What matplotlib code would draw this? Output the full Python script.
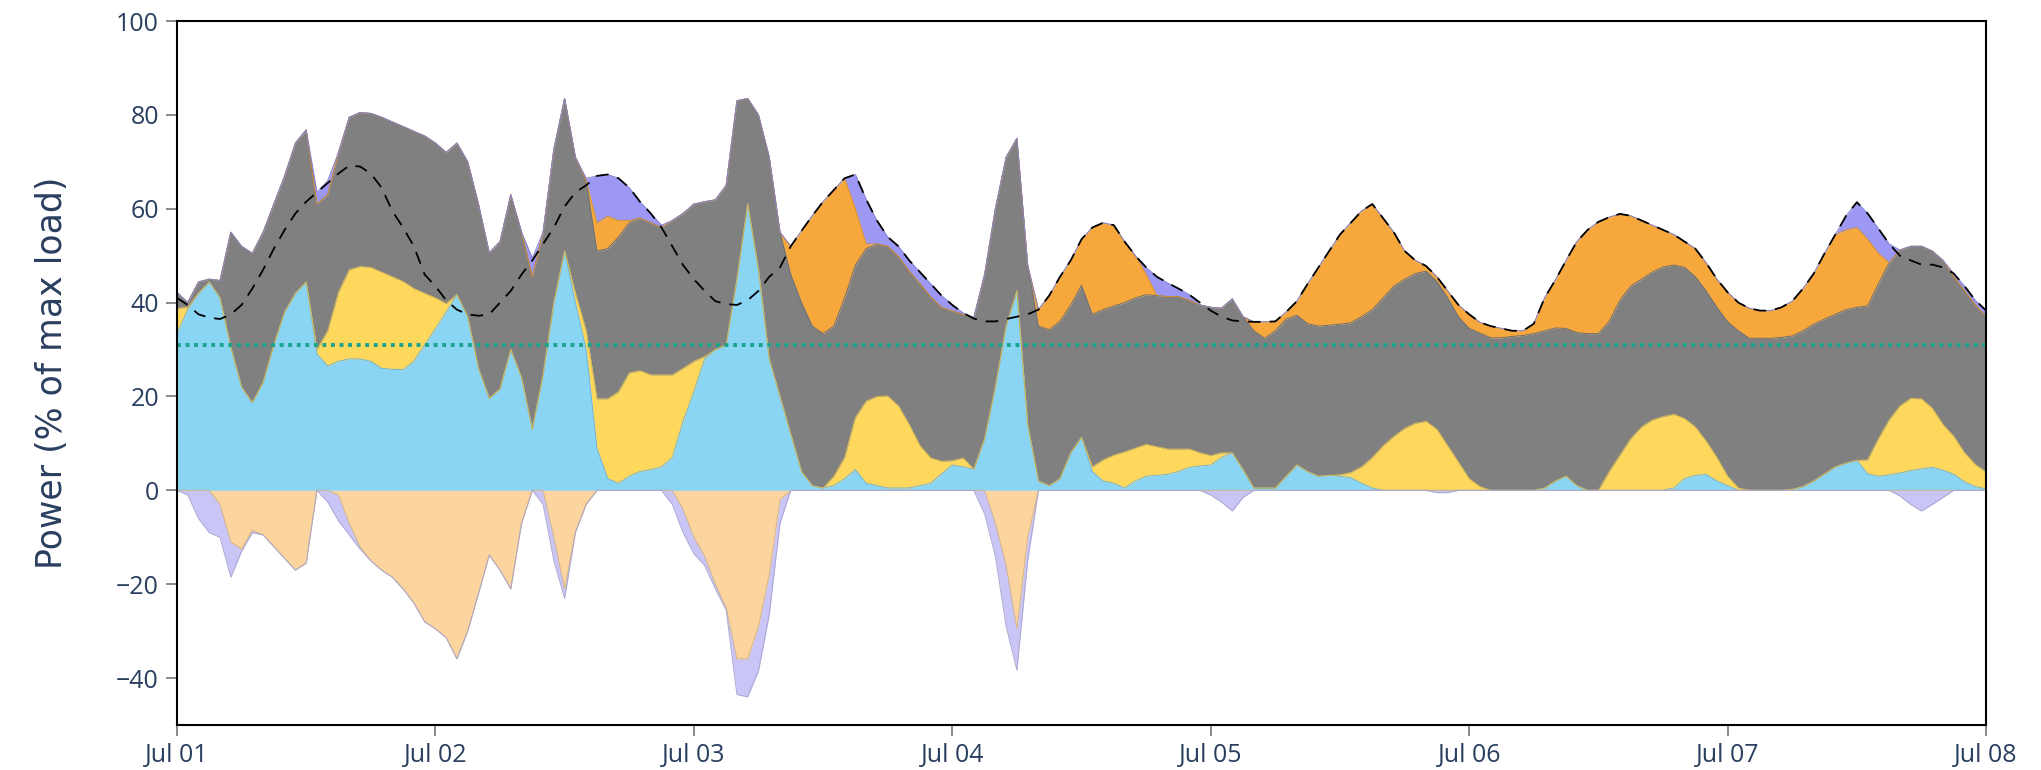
import numpy as np
import pandas as pd
import matplotlib
matplotlib.use('Agg')
import matplotlib.pyplot as plt
import matplotlib.dates as mdates
from matplotlib.colors import to_rgb

plt.rcParams['font.family'] = ['Open Sans', 'DejaVu Sans']

# hourly timestamps, one week
hours = pd.date_range('2023-07-01 00:00', '2023-07-08 00:00', freq='h')

# dispatch per source, % of max load (one row per day, last value = Jul 08 00:00)
blue = [
    33.4, 38.5, 42, 44.4, 41, 30.5, 22, 18.7, 23, 31, 38, 42, 44.4, 29, 26.5, 27.5, 28, 28, 27.5, 26, 25.8, 25.7, 27.5, 31,
    34.4, 38, 41.7, 37, 26, 19.6, 21.6, 30, 24, 13, 24.6, 40, 51, 40, 30, 9, 2.5, 1.5, 3, 4, 4.4, 5, 7, 14.7,
    21, 28, 30, 31, 45, 61, 47, 28, 20, 12, 4, 1, 0.5, 1, 2.5, 4.4, 1.5, 1, 0.5, 0.5, 0.5, 1, 1.5, 3.5,
    5.4, 5, 4.5, 11, 22, 35, 42.5, 14, 2, 1, 2.5, 8, 11.3, 4, 2, 1.5, 0.5, 2, 3, 3.2, 3.4, 4, 4.9, 5.2,
    5.4, 7, 8, 4.4, 0.5, 0.5, 0.5, 3, 5.4, 4, 3, 3.2, 3, 2.7, 1.5, 0.5, 0, 0, 0, 0, 0, 0, 0, 0,
    0, 0, 0, 0, 0, 0, 0, 0.5, 2, 3, 1, 0, 0, 0, 0, 0, 0, 0, 0, 0.5, 2.5, 3.2, 3.4, 2,
    1, 0, 0, 0, 0, 0, 0.2, 0.8, 2, 3.5, 5, 5.8, 6.4, 3.5, 3, 3.3, 3.7, 4.2, 4.6, 4.9, 4.3, 3.4, 1.8, 0.8,
    0.3,
]
yellow = [
    5.4, 0.5, 0, 0, 0, 0, 0, 0, 0, 0, 0, 0, 0, 1, 7.5, 14.7, 19, 19.7, 20, 20.5, 19.7, 18.8, 15.5, 11,
    6.6, 1.8, 0, 0, 0, 0, 0, 0, 0, 0, 0, 0, 0, 2, 4, 10.5, 17, 19.5, 22, 21.5, 20.2, 19.6, 17.6, 11.3,
    6.5, 0.5, 0, 0, 0, 0, 0, 0, 0, 0, 0, 0, 0, 2, 4.5, 11.1, 17.5, 19, 19.6, 17.5, 13.5, 8.5, 5.4, 2.7,
    0.9, 1.9, 0, 0, 0, 0, 0, 0, 0, 0, 0, 0, 0, 1, 4.5, 6, 7.7, 7, 6.8, 6.1, 5.4, 4.8, 3.9, 2.8,
    2, 1, 0, 0, 0, 0, 0, 0, 0, 0, 0, 0, 0.3, 1.1, 3.5, 6.5, 9.5, 11.5, 13.2, 14.3, 14.7, 13, 9.5, 6,
    2.5, 0.8, 0, 0, 0, 0, 0, 0, 0, 0, 0, 0, 0, 4, 7.5, 11, 13.5, 15, 15.7, 15.7, 12.8, 10.3, 7.1, 5,
    2, 0.5, 0, 0, 0, 0, 0, 0, 0, 0, 0, 0, 0, 3, 8, 11.7, 14.3, 15.4, 14.9, 12.6, 9.7, 8.1, 6.2, 4.7,
    3.6,
]
grey = [
    3.4, 1, 2.4, 0.6, 3.7, 24.5, 30, 31.8, 32, 30, 29, 32, 32.4, 31, 29, 29.8, 32.5, 32.8, 32.8, 33, 33, 33, 33.5, 33.5,
    33, 32.2, 32.3, 33, 35, 31, 31.4, 33, 31, 32.5, 30.4, 32.7, 32.5, 29, 32, 31.5, 32, 33, 32, 32.5, 32.4, 31.4, 32.9, 33,
    33.5, 33, 31.9, 34, 38, 22.5, 33, 43, 35, 34, 36, 34, 32.9, 32, 34, 32.5, 32.5, 32.5, 31.9, 31.8, 32.7, 34.5, 34.3, 32.8,
    31.9, 30.6, 32.3, 35, 38, 36, 32.5, 34, 33, 33.2, 33.5, 31.5, 32.4, 32.5, 32, 31.8, 31.8, 32, 31.9, 32.2, 32.5, 32.5, 31.7, 31.5,
    31.6, 30.8, 32.8, 32.6, 33.5, 31.9, 33.5, 33.5, 31.9, 31.5, 32, 32, 32.1, 31.9, 32, 31.5, 31.5, 32, 31.8, 31.9, 32, 31.5, 31.5, 31,
    32, 32.7, 32.5, 32.5, 32.8, 33, 33.4, 33.5, 32.6, 31.5, 32.6, 33.4, 33.4, 32, 33, 32.5, 31.5, 31.5, 31.9, 31.8, 32.2, 32, 32, 32,
    32.9, 33.5, 32.4, 32.4, 32.4, 32.6, 32.7, 33.2, 33.4, 33, 32.5, 32.7, 32.6, 32.8, 33, 33.5, 33.2, 32.4, 32.5, 33.5, 35, 34, 34.5, 34,
    33.1,
]
orange = [
    0, 0, 0, 0, 0, 0, 0, 0, 0, 0, 0, 0, 0, 0, 0, 0, 0, 0, 0, 0, 0, 0, 0, 0,
    0, 0, 0, 0, 0, 0, 0, 0, 0, 0, 0, 0, 0, 0, 0, 6, 6.9, 3.5, 0.5, 0, 0, 0, 0, 0,
    0, 0, 0, 0, 0, 0, 0, 0, 0, 6, 15.3, 23.5, 28.1, 29, 25.5, 12, 1, 0, 0, 0, 0, 0, 0, 0,
    0, 0, 0, 0, 0, 0, 0, 0, 3.5, 7.3, 9.5, 9.5, 9.8, 18.5, 18.5, 17.2, 13, 9, 4.3, 0, 0, 0, 0, 0,
    0, 0, 0, 0, 1.9, 3.5, 2, 1.5, 3, 8.5, 12.5, 15.8, 19.1, 21.3, 22.5, 22.5, 17, 11.5, 6, 2.8, 1.1, 1, 1.5, 2.5,
    3, 2.3, 2.5, 2, 1.2, 1, 2.1, 7, 10.2, 14.5, 19.4, 22.1, 23.8, 22.2, 18.4, 15, 12.5, 10, 7.9, 6.5, 5.5, 6, 6, 6,
    6.3, 6, 6.4, 5.9, 5.9, 6.4, 7.4, 9, 10.8, 14, 17, 17, 17, 14.2, 6.5, 0, 0, 0, 0, 0, 0, 0, 0, 0,
    0,
]
purple = [
    0, 0, 0, 0, 0, 0, 0, 0, 0, 0, 0, 0, 0, 2.5, 3, 0, 0, 0, 0, 0, 0, 0, 0, 0,
    0, 0, 0, 0, 0, 0, 0, 0, 0, 4, 0, 0, 0, 0, 0.5, 10, 8.9, 9, 7, 3.5, 2, 0.5, 0, 0,
    0, 0, 0, 0, 0, 0, 0, 0, 0, 0, 0, 0, 0, 0, 0, 7.3, 9.5, 5, 2, 2.2, 2.3, 2.5, 2.8, 2.5,
    1.3, 0.3, 0, 0, 0, 0, 0, 0, 0, 0, 0, 0, 0, 0, 0, 0, 0, 0, 1.5, 4, 2.9, 1.7, 1.2, 0,
    0, 0, 0, 0, 0, 0, 0, 0, 0, 0, 0, 0, 0, 0, 0, 0, 0, 0, 0, 0, 0, 0, 0, 0,
    0, 0, 0, 0, 0, 0, 0, 0, 0, 0, 0, 0, 0, 0, 0, 0, 0, 0, 0, 0, 0, 0, 0, 0,
    0, 0, 0, 0, 0, 0, 0, 0, 0, 0, 0, 3, 5.4, 5.5, 5.3, 4, 0, 0, 0, 0, 0, 0.7, 1, 1,
    1.3,
]
# charging (negative side)
peach = [
    0, 0, 0, 0, -3, -11, -12.5, -8.5, -9.5, -12, -14.5, -17, -15.5, 0, 0, -1, -7, -12, -15, -17, -18.5, -21, -24, -28,
    -29.5, -31.4, -35.9, -30, -22, -13.8, -17, -21, -7, 0, 0, -10, -21, -9, -3, 0, 0, 0, 0, 0, 0, 0, 0, -4,
    -10, -14, -20, -25, -35.9, -35.9, -29, -18, -2, 0, 0, 0, 0, 0, 0, 0, 0, 0, 0, 0, 0, 0, 0, 0,
    0, 0, 0, 0, -7, -16, -29.5, -10, 0, 0, 0, 0, 0, 0, 0, 0, 0, 0, 0, 0, 0, 0, 0, 0,
    0, 0, 0, 0, 0, 0, 0, 0, 0, 0, 0, 0, 0, 0, 0, 0, 0, 0, 0, 0, 0, 0, 0, 0,
    0, 0, 0, 0, 0, 0, 0, 0, 0, 0, 0, 0, 0, 0, 0, 0, 0, 0, 0, 0, 0, 0, 0, 0,
    0, 0, 0, 0, 0, 0, 0, 0, 0, 0, 0, 0, 0, 0, 0, 0, 0, 0, 0, 0, 0, 0, 0, 0,
    0,
]
lavender = [
    0, -1, -6, -9, -7, -7.5, -0.5, -0.5, 0, 0, 0, 0, 0, 0, -2.5, -5.5, -2.5, -0.5, 0, 0, 0, 0, 0, 0,
    0, 0, 0, 0, 0, 0, 0, 0, 0, 0, -3, -5, -2, 0, 0, 0, 0, 0, 0, 0, 0, 0, -3, -5,
    -3.5, -2, -1, -0.5, -7.6, -8.1, -9.5, -8.5, -5, 0, 0, 0, 0, 0, 0, 0, 0, 0, 0, 0, 0, 0, 0, 0,
    0, 0, 0, -5, -7, -13, -8.8, -5, 0, 0, 0, 0, 0, 0, 0, 0, 0, 0, 0, 0, 0, 0, 0, 0,
    -1, -2.5, -4.4, -1.5, 0, 0, 0, 0, 0, 0, 0, 0, 0, 0, 0, 0, 0, 0, 0, 0, 0, -0.5, -0.5, 0,
    0, 0, 0, 0, 0, 0, 0, 0, 0, 0, 0, 0, 0, 0, 0, 0, 0, 0, 0, 0, 0, 0, 0, 0,
    0, 0, 0, 0, 0, 0, 0, 0, 0, 0, 0, 0, 0, 0, 0, 0, -1.2, -3, -4.4, -3, -1.5, 0, 0, 0,
    0,
]
load = [
    41, 39.5, 37.5, 36.8, 36.5, 37.5, 39.5, 43, 47, 51.5, 55.5, 59, 61.5, 63.5, 65.5, 67.5, 69.2, 69, 67.5, 64.5, 59.5, 56, 52, 46,
    43.5, 40.5, 38.5, 37.5, 37.2, 37.5, 40, 42.5, 46, 49, 52.5, 56, 60.5, 63.5, 65, 67, 67.3, 66.5, 64.5, 61.5, 59, 56, 52, 48,
    45, 42.5, 40.3, 39.7, 39.5, 40.5, 42.5, 45.5, 47.5, 52, 55.3, 58.5, 61.5, 64, 66.5, 67.3, 62, 57.5, 54, 52, 49, 46.5, 44, 41.5,
    39.5, 37.8, 36.6, 36, 36, 36.5, 37, 37.5, 38.5, 41.5, 45.5, 49, 53.5, 56, 57, 56.5, 53, 50, 47.5, 45.5, 44.2, 43, 41.7, 40,
    38.3, 37, 36.2, 36, 35.9, 35.9, 36, 38, 40.3, 44, 47.5, 51, 54.5, 57, 59.5, 61, 58, 55, 51, 49, 47.8, 45.5, 42.5, 39.5,
    37.5, 35.8, 35, 34.5, 34, 34, 35.5, 41, 44.8, 49, 53, 55.5, 57.2, 58.2, 58.9, 58.5, 57.5, 56.5, 55.5, 54.5, 53, 51.5, 48.5, 45,
    42.2, 40, 38.8, 38.3, 38.3, 39, 40.3, 43, 46.2, 50.5, 54.5, 58.5, 61.4, 59, 55.8, 52.5, 50, 49, 48.1, 48.1, 47.5, 46.2, 43.5, 40.5,
    38.3,
]
threshold = 31

positive = [(blue, '#8ad4f4'), (yellow, '#fdd85d'), (grey, '#808080'),
            (orange, '#f7a83c'), (purple, '#9d98f4')]
negative = [(peach, '#fbd49e'), (lavender, '#c9c5f6')]


def darker(color, f=0.85):
    return tuple(c * f for c in to_rgb(color))


fig = plt.figure(figsize=(20.41, 7.70), dpi=100)
ax = fig.add_axes([0.0867, 0.0584, 0.8864, 0.9143])

for layers in (positive, negative):
    base = np.zeros(len(hours))
    for values, color in layers:
        top = base + np.asarray(values, dtype=float)
        ax.fill_between(hours, base, top, color=color, linewidth=0)
        ax.plot(hours, top, color=darker(color), lw=0.7)
        base = top

ax.plot(hours, load, color='black', lw=1.3, dashes=(7, 5))
ax.axhline(threshold, color='#19a48b', lw=2.8, linestyle=(0, (1, 1.2)))

ax.set_xlim(hours[0], hours[-1])
ax.set_ylim(-50, 100)
ax.set_yticks([-40, -20, 0, 20, 40, 60, 80, 100])
ax.xaxis.set_major_locator(mdates.DayLocator())
ax.xaxis.set_major_formatter(mdates.DateFormatter('%b %d'))

for side in ax.spines.values():
    side.set_color('black')
    side.set_linewidth(1.5)
ax.tick_params(direction='out', length=8, width=1.2, color='#777777',
               labelsize=18, labelcolor='#2a3f5f', pad=5)

fig.text(52 / 2041, 0.5156, 'Power (% of max load)', rotation=90,
         ha='center', va='center', fontsize=25, color='#2a3f5f',
         family='DejaVu Sans')

fig.savefig('out.png', dpi=100)
